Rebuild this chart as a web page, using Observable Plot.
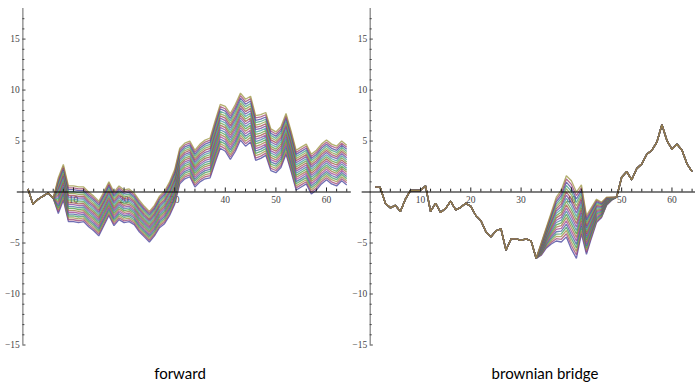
<!DOCTYPE html>
<html><head><meta charset="utf-8">
<script src="https://cdn.jsdelivr.net/npm/d3@7"></script>
<script src="https://cdn.jsdelivr.net/npm/@observablehq/plot@0.6"></script>
<style>
html,body{margin:0;padding:0;background:#fff;}
#wrap{position:relative;width:695px;height:388px;overflow:hidden;}
#left{position:absolute;left:0;top:0;}
#right{position:absolute;left:335px;top:0;}
.cap{position:absolute;top:363px;font-family:Lato,"Open Sans",sans-serif;font-size:15px;line-height:20px;color:#000;transform:translateX(-50%);white-space:nowrap;}
</style></head><body>
<div id="wrap"><div id="left"></div><div id="right"></div>
<div class="cap" style="left:180px">forward</div>
<div class="cap" style="left:545px">brownian bridge</div></div>
<script>
// ---- data ----
const steps = d3.range(1, 65); // time steps 1..64
// top (last drawn, olive) path of the "forward" panel
const forwardTop = [0.3,-1.2,-0.7,-0.4,-0.1,-0.6,1.4,2.7,0.6,0.6,
  0.5,0.5,0.0,-0.4,-0.9,0.0,1.0,0.0,0.6,0.2,
  0.3,-0.1,-0.8,-1.4,-1.9,-1.3,-0.4,0.1,1.0,2.2,
  4.3,4.8,5.0,4.1,4.7,5.1,5.3,7.0,8.6,8.4,
  7.7,8.6,9.7,9.1,9.4,7.5,7.6,7.8,6.2,5.9,
  6.4,7.7,6.0,4.1,4.4,4.7,3.7,4.1,4.7,5.1,
  4.7,4.5,5.0,4.6];
// vertical spread between top and bottom path at each step ("forward")
const forwardSpread = [0,0,0,0,0,0,3.5,3.5,3.5,3.5,
  3.5,3.4,3.4,3.4,3.4,3.3,3.3,3.3,3.3,3.2,
  3.2,3.1,3.1,3.0,3.0,3.0,3.1,3.2,3.3,3.4,
  3.5,3.5,3.5,3.6,3.7,3.8,3.9,4.1,4.3,4.4,
  4.5,4.6,4.6,4.6,4.5,4.4,4.3,4.2,4.1,4.0,
  4.0,4.0,4.0,3.9,3.9,3.9,3.9,3.9,3.9,3.9,
  3.9,3.9,3.9,3.9];
// top path of the "brownian bridge" panel
const bridgeTop = [0.5,0.45,-1.1,-1.55,-1.3,-1.9,-0.7,0.15,0.15,0.15,
  0.6,-1.9,-1.1,-2.0,-1.6,-0.9,-1.75,-1.5,-1.1,-1.4,
  -2.3,-2.8,-3.9,-4.4,-3.8,-3.6,-5.7,-4.6,-4.6,-4.75,
  -4.6,-4.8,-6.5,-5.0,-3.5,-2.0,-0.5,0.2,1.6,1.1,
  0.0,0.7,-2.3,-1.5,-0.7,-1.0,-0.5,-0.5,-0.5,1.45,
  2.0,1.2,2.3,2.75,3.7,4.1,4.9,6.6,5.05,4.2,
  4.7,4.1,2.75,2.0];
// spread of the bridge fan, only non-zero on steps 33..49
const bridgeSpreadSteps = [33,34,35,36,37,38,39,40,41,42,43,44,45,46,47,48,49];
const bridgeSpreadValues = [0,1.2,2.0,3.1,4.3,5.1,6.0,6.7,6.5,4.8,3.8,3.0,2.3,1.5,0.8,0.3,0];
const nPaths = 20;
const xMajorTicks = [10,20,30,40,50,60];
const xMinorTicks = [2,4,6,8,12,14,16,18,22,24,26,28,32,34,36,38,42,44,46,48,52,54,56,58,62,64];
const yMajorTicks = [-15,-10,-5,5,10,15];
const yMinorTicks = [-14,-13,-12,-11,-9,-8,-7,-6,-4,-3,-2,-1,1,2,3,4,6,7,8,9,11,12,13,14,16,17];

// Mathematica (v6-9) default plot colours: Hue[0.67 + 0.236068 k, 0.6, 0.6]
function hsv(h, s, v) {
  const i = Math.floor(h * 6), f = h * 6 - i;
  const p = v * (1 - s), q = v * (1 - f * s), t = v * (1 - (1 - f) * s);
  const [r, g, b] = [[v,t,p],[q,v,p],[p,v,t],[p,q,v],[t,p,v],[v,p,q]][i % 6];
  return d3.rgb(r * 255, g * 255, b * 255).formatHex();
}
const pathColors = d3.range(nPaths).map(k => hsv((0.67 + 0.236068 * k) % 1, 0.6, 0.6));

function buildRows(top, spread) {
  const rows = [];
  for (let j = 0; j < nPaths; j++)
    steps.forEach((s, k) => rows.push({
      path: j, step: s, color: pathColors[j],
      value: top[k] - spread[k] * (nPaths - 1 - j) / (nPaths - 1)
    }));
  return rows;
}
const bridgeSpread = steps.map(s => {
  const i = bridgeSpreadSteps.indexOf(s);
  return i < 0 ? 0 : bridgeSpreadValues[i];
});

const serif = "Liberation Serif, Times New Roman, serif";
const minus = d => d < 0 ? "\u2212" + (-d) : String(d);

function panel(rows, width, xDomain, xRange) {
  return Plot.plot({
    width, height: 355,
    marginTop: 0, marginBottom: 0, marginLeft: 0, marginRight: 0,
    x: {domain: xDomain, range: xRange, axis: null},
    y: {domain: [-15, 18], range: [344.5, 8], axis: null},
    color: {type: "identity"},
    style: {background: "transparent"},
    marks: [
      Plot.text(xMajorTicks, {x: d => d, y: 0, text: d => String(d), dy: 7.5,
        fontFamily: serif, fontSize: 9.5, fill: "#444"}),
      Plot.text(yMajorTicks, {x: 0, y: d => d, text: minus, textAnchor: "end", dx: -3,
        fontFamily: serif, fontSize: 9.5, fill: "#444"}),
      Plot.line(rows, {x: "step", y: "value", z: "path", stroke: "color",
        strokeWidth: 1.3, strokeOpacity: 0.75, strokeLinejoin: "miter", strokeLinecap: "butt"}),
      Plot.ruleX([0], {y1: -15, y2: 18, stroke: "#888", strokeWidth: 1.3}),
      Plot.ruleY([0], {x1: xDomain[0], x2: xDomain[1], stroke: "#000", strokeWidth: 1.1}),
      Plot.ruleX(xMajorTicks, {x: d => d, y1: 0, y2: 0.4, stroke: "#222"}),
      Plot.ruleX(xMinorTicks, {x: d => d, y1: 0, y2: 0.28, stroke: "#222"}),
      Plot.ruleY(yMajorTicks, {y: d => d, x1: 0, x2: 0.62, stroke: "#444"}),
      Plot.ruleY(yMinorTicks, {y: d => d, x1: 0, x2: 0.4, stroke: "#444"})
    ]
  });
}

document.getElementById("left").append(
  panel(buildRows(forwardTop, forwardSpread), 355, [-1.1, 64.9], [16.8, 350.8]));
document.getElementById("right").append(
  panel(buildRows(bridgeTop, bridgeSpread), 360, [-1.6, 64.7], [26.65, 360.1]));
</script>
</body></html>
